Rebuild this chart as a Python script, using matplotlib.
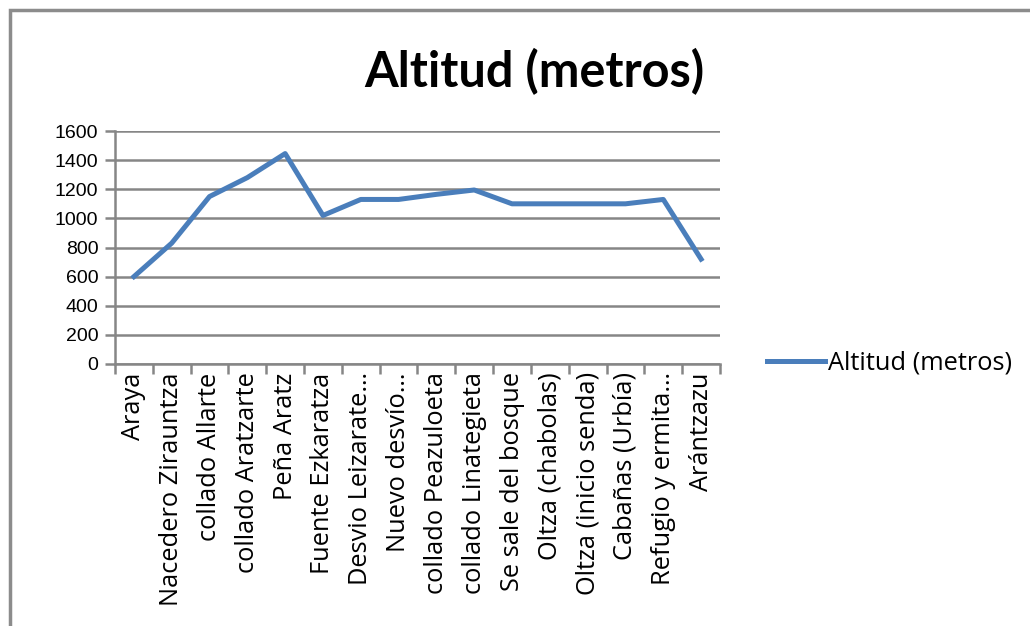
import matplotlib.pyplot as plt
import numpy as np
from matplotlib.patches import Rectangle

# Datos
puntos = ['Araya', 'Nacedero Zirauntza', 'collado Allarte', 'collado Aratzarte',
          'Peña Aratz', 'Fuente Ezkaratza', 'Desvio Leizarate…', 'Nuevo desvío…',
          'collado Peazuloeta', 'collado Linategieta', 'Se sale del bosque',
          'Oltza (chabolas)', 'Oltza (inicio senda)', 'Cabañas (Urbía)',
          'Refugio y ermita…', 'Arántzazu']
altitud = [600, 830, 1150, 1280, 1445, 1020, 1130, 1130,
           1165, 1195, 1100, 1100, 1100, 1100, 1130, 720]
y_ticks = [0, 200, 400, 600, 800, 1000, 1200, 1400, 1600]

gris = '#868686'
azul = '#4A7EBB'

fig = plt.figure(figsize=(10.3, 6.26), dpi=100)
fig.patches.append(Rectangle((10 / 1030, -0.1), 1.2, 1 - 10 / 626 + 0.1,
                             transform=fig.transFigure, fill=False,
                             edgecolor='#8c8c8c', linewidth=2.5))

ax = fig.add_axes([115 / 1030, 1 - 364 / 626, 605 / 1030, 233 / 626])
x = np.arange(len(puntos))
ax.plot(x, altitud, color=azul, linewidth=3.6, solid_joinstyle='round',
        label='Altitud (metros)')

ax.set_xlim(-0.5, len(puntos) - 0.5)
ax.set_ylim(0, 1600)
ax.set_yticks(y_ticks)
ax.set_yticklabels([str(v) for v in y_ticks], fontsize=14, family='Liberation Sans')
ax.yaxis.grid(True, color=gris, linewidth=1.8)
ax.set_axisbelow(True)

# ticks en los limites de categoria, etiquetas centradas
ax.set_xticks(np.arange(len(puntos) + 1) - 0.5)
ax.set_xticklabels([])
ax.set_xticks(x, minor=True)
ax.set_xticklabels(puntos, minor=True, rotation=90, fontsize=18.3, family='Open Sans')
ax.tick_params(axis='x', which='minor', length=0, pad=6)
ax.tick_params(axis='x', which='major', length=7, width=1.8, color=gris)
ax.tick_params(axis='y', length=7, width=1.8, color=gris, pad=5)

for s in ['top', 'right']:
    ax.spines[s].set_visible(False)
for s in ['left', 'bottom']:
    ax.spines[s].set_color(gris)
    ax.spines[s].set_linewidth(1.8)

fig.text(534 / 1030, 1 - 72 / 626, 'Altitud (metros)', ha='center', va='center',
         fontsize=35, fontweight='bold', family='Lato')

leg = fig.legend(loc='center left', bbox_to_anchor=(744 / 1030, 1 - 363 / 626),
                 frameon=False, handlelength=2.3, handletextpad=0.1,
                 prop={'family': 'Open Sans', 'size': 18.3})

fig.savefig('out.png', dpi=100)
